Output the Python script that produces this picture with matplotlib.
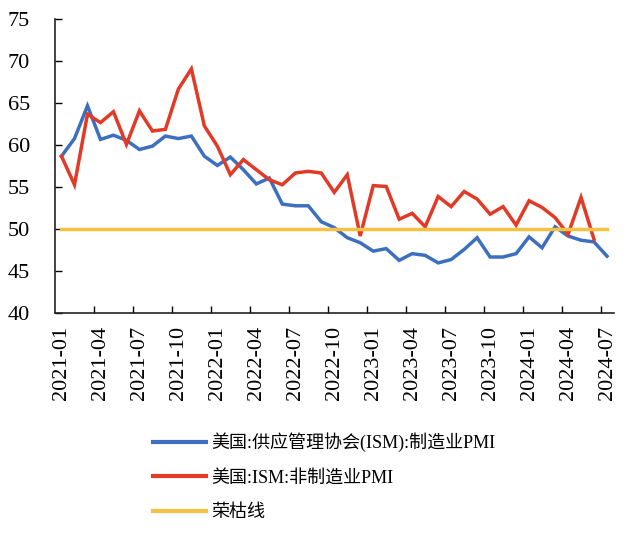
import matplotlib
matplotlib.use("Agg")
import matplotlib.pyplot as plt
import numpy as np

plt.rcParams['font.family'] = ['Liberation Serif', 'Noto Sans CJK SC', 'DejaVu Sans']

months = [f"{y}-{m:02d}" for y in (2021, 2022, 2023, 2024) for m in range(1, 13)][:43]

mfg_pmi = [58.7, 60.8, 64.7, 60.7, 61.2, 60.6, 59.5, 59.9, 61.1, 60.8, 61.1, 58.7,
           57.6, 58.6, 57.1, 55.4, 56.1, 53.0, 52.8, 52.8, 50.9, 50.2, 49.0, 48.4,
           47.4, 47.7, 46.3, 47.1, 46.9, 46.0, 46.4, 47.6, 49.0, 46.7, 46.7, 47.1,
           49.1, 47.8, 50.3, 49.2, 48.7, 48.5, 46.8]
svc_pmi = [58.7, 55.3, 63.7, 62.7, 64.0, 60.1, 64.1, 61.7, 61.9, 66.7, 69.1, 62.3,
           59.9, 56.5, 58.3, 57.1, 55.9, 55.3, 56.7, 56.9, 56.7, 54.4, 56.5, 49.2,
           55.2, 55.1, 51.2, 51.9, 50.3, 53.9, 52.7, 54.5, 53.6, 51.8, 52.7, 50.5,
           53.4, 52.6, 51.4, 49.4, 53.8, 48.8]
boom_bust = [50.0] * 43

labels = ["美国:供应管理协会(ISM):制造业PMI", "美国:ISM:非制造业PMI", "荣枯线"]
colors = ["#3D6FBF", "#E23A26", "#F3C242"]

fig = plt.figure(figsize=(6.33, 5.37), dpi=100)
ax = fig.add_axes([55/633, 1-313.3/537, (613.5-55)/633, (313.3-19.3)/537])

x = np.arange(len(months))
lw = 2.5
ax.plot(x, mfg_pmi, color=colors[0], lw=lw, label=labels[0], solid_joinstyle='miter')
ax.plot(x[:len(svc_pmi)], svc_pmi, color=colors[1], lw=lw, label=labels[1], solid_joinstyle='miter')
ax.plot(x, boom_bust, color=colors[2], lw=lw, label=labels[2])

ax.set_xlim(-0.5, 42.5)
ax.set_ylim(40, 75)
ax.set_yticks(np.arange(40, 76, 5))
ax.set_xticks(x[::3])
ax.set_xticklabels([months[i] for i in range(0, 43, 3)], rotation=90)
ax.set_xticks(np.arange(2.5, 42, 3), minor=True)
ax.tick_params(axis='x', which='major', length=0, pad=9, labelsize=16)
ax.tick_params(axis='x', which='minor', length=5, direction='in', width=1)
ax.tick_params(axis='y', which='major', length=5, direction='in', width=1, labelsize=16, pad=18)
for s in ['top', 'right']:
    ax.spines[s].set_visible(False)
for s in ['left', 'bottom']:
    ax.spines[s].set_linewidth(1.2)
    ax.spines[s].set_color('#222222')

handles, labs = ax.get_legend_handles_labels()
leg = fig.legend(handles, labs, loc='upper left', bbox_to_anchor=(137/633, 1-416/537),
                 frameon=False, handlelength=2.9, handletextpad=0.3,
                 labelspacing=0.98, prop={'family': ['Liberation Serif', 'Noto Sans CJK SC'], 'size': 13})
for l in leg.get_lines():
    l.set_linewidth(3)

fig.savefig("out.png", dpi=100)
